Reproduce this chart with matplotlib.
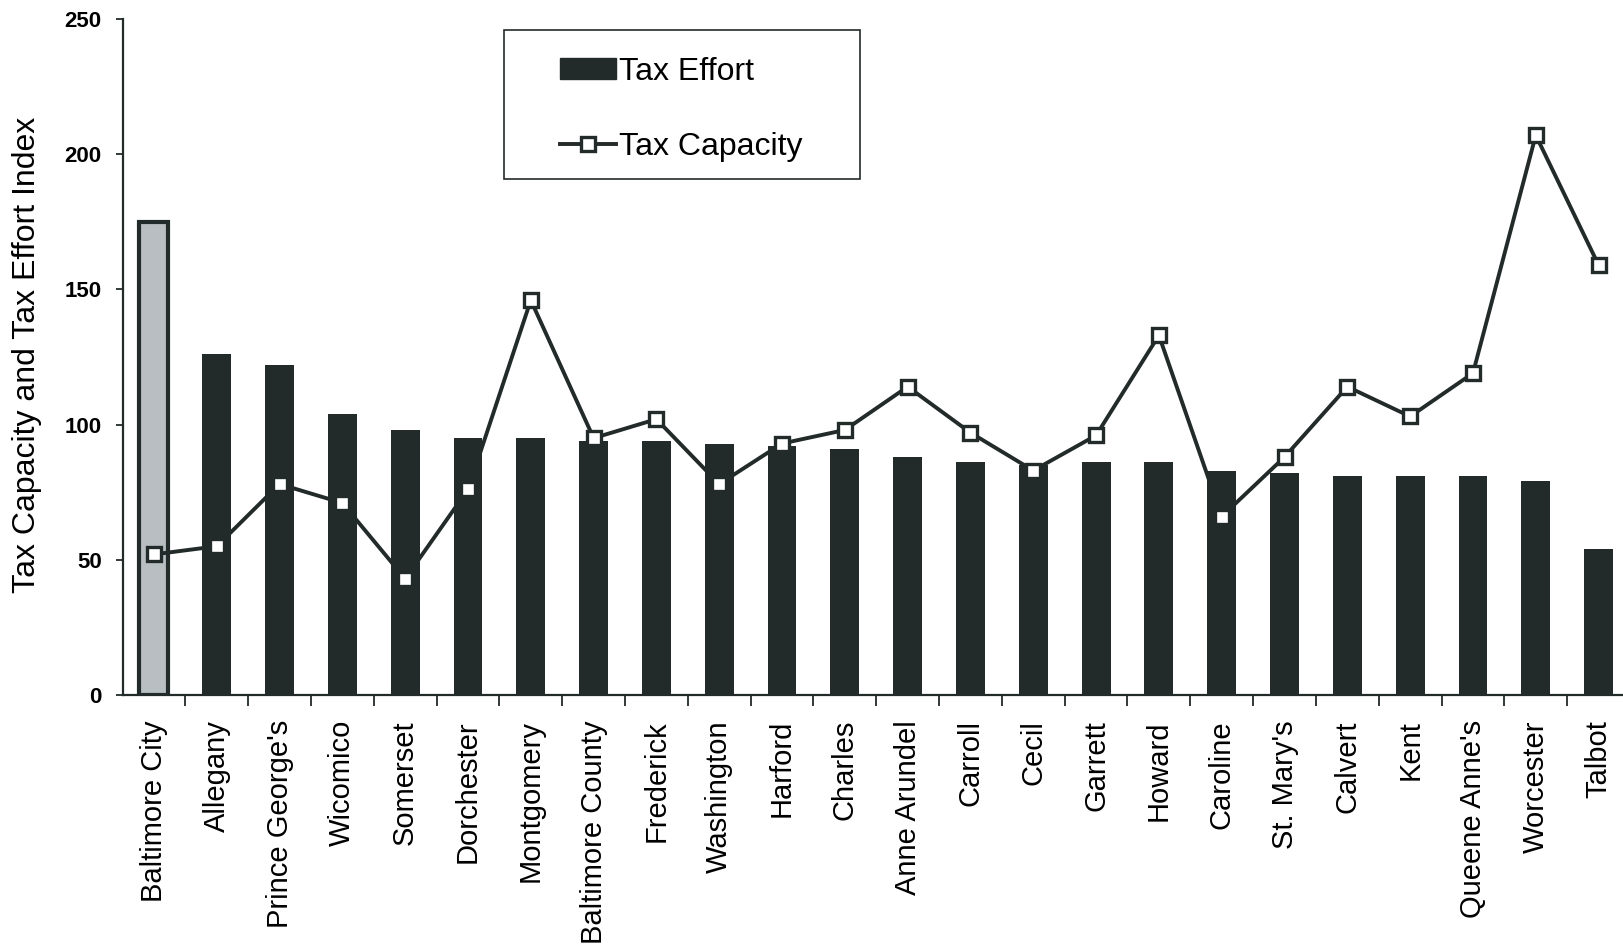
import matplotlib
matplotlib.use("Agg")
import matplotlib.pyplot as plt
from matplotlib.patches import Rectangle
from matplotlib.lines import Line2D
import numpy as np

plt.rcParams['font.family'] = ['Liberation Sans', 'DejaVu Sans']

counties = ["Baltimore City", "Allegany", "Prince George's", "Wicomico", "Somerset",
            "Dorchester", "Montgomery", "Baltimore County", "Frederick", "Washington",
            "Harford", "Charles", "Anne Arundel", "Carroll", "Cecil", "Garrett",
            "Howard", "Caroline", "St. Mary's", "Calvert", "Kent", "Queene Anne's",
            "Worcester", "Talbot"]
tax_effort = [175, 126, 122, 104, 98, 95, 95, 94, 94, 93, 92, 91, 88, 86, 85, 86,
              86, 83, 82, 81, 81, 81, 79, 54]
tax_capacity = [52, 55, 78, 71, 43, 76, 146, 95, 102, 78, 93, 98, 114, 97, 83, 96,
                133, 66, 88, 114, 103, 119, 207, 159]
y_ticks = [0, 50, 100, 150, 200, 250]

DARK = "#222b29"
GRAY = "#b9bec3"

fig = plt.figure(figsize=(16.23, 9.46), dpi=100)
ax = fig.add_axes([0.0755, 0.2653, 1.0043 - 0.0755, 0.980 - 0.2653])

x = np.arange(len(counties))
colors = [GRAY] + [DARK] * (len(counties) - 1)
bars = ax.bar(x, tax_effort, width=0.46, color=colors, edgecolor=DARK, linewidth=0, zorder=2)
bars[0].set_linewidth(3)

ax.plot(x, tax_capacity, color=DARK, lw=2.8, marker='s', markersize=9.5,
        markerfacecolor='white', markeredgecolor=DARK, markeredgewidth=2.4, zorder=3)

ax.set_xlim(-0.5, len(counties) - 0.5)
ax.set_ylim(0, 250)
ax.set_yticks(y_ticks)
ax.set_yticklabels([str(v) for v in y_ticks], fontsize=16, fontweight='bold', color='black')

ax.set_xticks(x[:-1] + 0.5)
ax.set_xticklabels([])
ax.set_xticks(x, minor=True)
ax.set_xticklabels(counties, minor=True, rotation=90, fontsize=21, va='top', ha='center')
ax.tick_params(axis='x', which='major', length=8, width=1.3, color=DARK, direction='out')
ax.tick_params(axis='x', which='minor', length=0, pad=18)
ax.tick_params(axis='y', length=5, width=1.3, color=DARK, direction='out', pad=10)

for s in ['top', 'right']:
    ax.spines[s].set_visible(False)
for s in ['left', 'bottom']:
    ax.spines[s].set_color(DARK)
    ax.spines[s].set_linewidth(1.6)

fig.text(0.0165, 0.625, "Tax Capacity and Tax Effort Index", rotation=90,
         fontsize=23, ha='center', va='center')

# legend
h1 = Rectangle((0, 0), 1, 1, facecolor=DARK, edgecolor=DARK)
h2 = Line2D([], [], color=DARK, lw=2.8, marker='s', markersize=9.5,
            markerfacecolor='white', markeredgecolor=DARK, markeredgewidth=2.4)
leg = fig.legend([h1, h2], ["Tax Effort", "Tax Capacity"], loc='center',
                 bbox_to_anchor=(0.4199, 0.8846), frameon=False, fontsize=23,
                 handlelength=1.75, handleheight=0.6, handletextpad=0.1,
                 labelspacing=1.4)
fig.add_artist(Rectangle((0.3105, 0.8108), 0.5299 - 0.3105, 0.9683 - 0.8108,
                         transform=fig.transFigure, fill=False, edgecolor=DARK, lw=1.2))

fig.savefig("out.png", dpi=100)
